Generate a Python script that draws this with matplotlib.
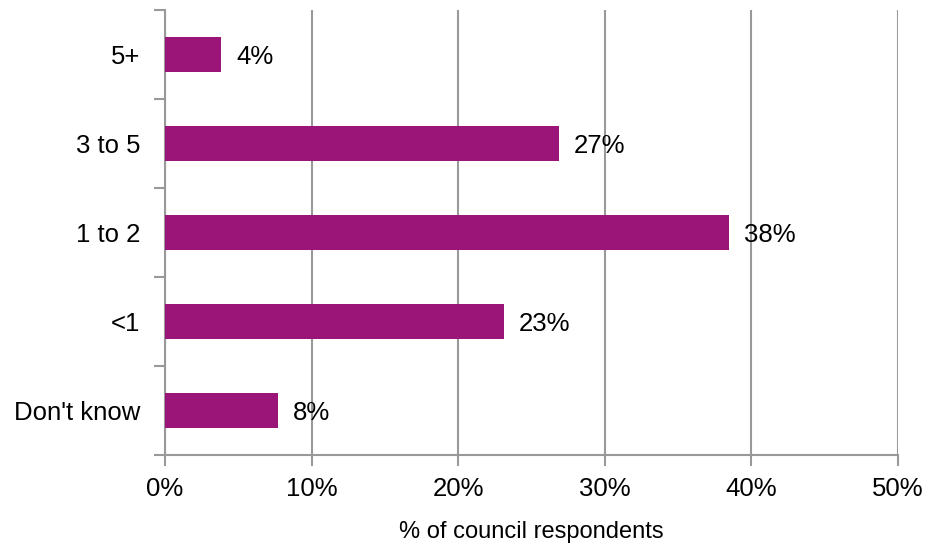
import matplotlib
matplotlib.use("Agg")
import matplotlib.pyplot as plt
import numpy as np

categories = ["5+", "3 to 5", "1 to 2", "<1", "Don't know"]
values = [3.85, 26.9, 38.5, 23.1, 7.7]
labels = ["4%", "27%", "38%", "23%", "8%"]
xticks = [0, 10, 20, 30, 40, 50]
xticklabels = ["0%", "10%", "20%", "30%", "40%", "50%"]

plt.rcParams['font.family'] = ['Liberation Sans', 'DejaVu Sans']

fig = plt.figure(figsize=(9.27, 5.52), dpi=100)
ax = fig.add_axes([0.178, 0.1757, 0.7907, 0.8063])

n = len(categories)
y = np.arange(n)[::-1]
color = "#9B1579"
ax.barh(y, values, height=0.4, color=color, zorder=3)
for yi, v, lab in zip(y, values, labels):
    ax.text(v + 1.0, yi, lab, va="center_baseline", ha="left", fontsize=18.5, color="black")

ax.set_xlim(0, 50)
ax.set_ylim(-0.5, n - 0.5)
ax.set_xticks(xticks)
ax.set_xticklabels(xticklabels, fontsize=18.5)
ax.set_yticks(y)
ax.set_yticklabels(categories, fontsize=18.5)
ax.tick_params(axis="y", length=0, pad=18)
ax.set_yticks(np.arange(-0.5, n, 1.0), minor=True)
ax.tick_params(axis="y", which="minor", length=8, width=1.5, color="#999999", direction="out")
ax.tick_params(axis="x", length=8, width=1.5, color="#999999", direction="out", pad=8)

ax.grid(axis="x", color="#999999", linewidth=1.5, zorder=0)
for side in ["top", "right"]:
    ax.spines[side].set_visible(False)
for side in ["left", "bottom"]:
    ax.spines[side].set_color("#999999")
    ax.spines[side].set_linewidth(1.5)

ax.set_xlabel("% of council respondents", fontsize=17, labelpad=14)

fig.savefig("out.png", dpi=100)
